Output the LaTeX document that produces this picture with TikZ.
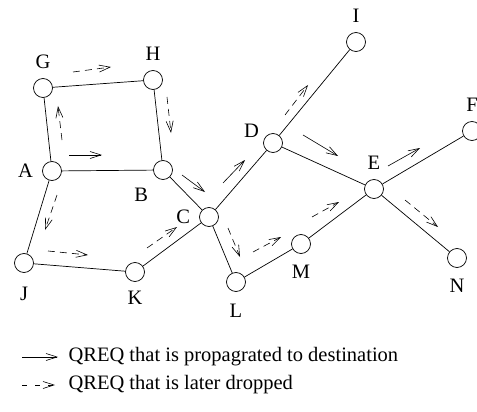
\documentclass[tikz,border=0pt]{standalone}
\usepackage{fontspec}
\setmainfont{Liberation Serif}
\usetikzlibrary{positioning,arrows.meta}

\begin{document}
\begin{tikzpicture}[
    x=1pt, y=-1pt,
    font=\fontsize{20.5}{24}\selectfont,
    label distance=9pt,
    every label/.style={inner sep=0pt},
    station/.style={circle, draw=black, fill=white, line width=0.7pt, minimum size=19pt, inner sep=0pt},
    link/.style={line width=0.7pt},
    fwd/.style={-{Straight Barb[length=11pt,width=7pt]}, line width=0.6pt},
    drop/.style={fwd, dash pattern=on 7pt off 5pt}
    ]
    \useasboundingbox (0,0) rectangle (477,412);

        %Nodes
        \node[station, label=above:G]    (G) at (43,88)   {};
        \node[station, label=above:H]    (H) at (153,80)  {};
        \node[station, label=left:A]     (A) at (52,171)  {};
        \node[station, label={[label distance=13pt]230:B}] (B) at (163,170) {};
        \node[station, label={[label distance=5pt]158:D}] (D) at (273,143) {};
        \node[station, label=left:C]     (C) at (209,217) {};
        \node[station, label=above:I]    (I) at (356,42)  {};
        \node[station, label=above:E]    (E) at (374,189) {};
        \node[station, label=above:F]    (F) at (472,131) {};
        \node[station, label={[label distance=14pt]below:J}] (J) at (24,263)  {};
        \node[station, label={[label distance=9pt]below:K}]  (K) at (135,272) {};
        \node[station, label={[label distance=12pt]below:L}] (L) at (236,282) {};
        \node[station, label={[label distance=11pt]below:M}] (M) at (301,244) {};
        \node[station, label={[label distance=11pt]below:N}] (N) at (457,258) {};

        %Lines
        \draw[link] (G) -- (H);
        \draw[link] (G) -- (A);
        \draw[link] (H) -- (B);
        \draw[link] (A) -- (B);
        \draw[link] (A) -- (J);
        \draw[link] (J) -- (K);
        \draw[link] (K) -- (C);
        \draw[link] (B) -- (C);
        \draw[link] (C) -- (D);
        \draw[link] (C) -- (L);
        \draw[link] (D) -- (I);
        \draw[link] (D) -- (E);
        \draw[link] (L) -- (M);
        \draw[link] (M) -- (E);
        \draw[link] (E) -- (F);
        \draw[link] (E) -- (N);

        %QREQ arrows
        \foreach \nm/\xa/\ya/\xb/\yb/\sty in {
            AB/69/155/102/155/fwd, AG/62/140/58/106/drop, GH/73/72/111/67/drop,
            HB/167/97/171/133/drop, BC/182/175/205/192/fwd, CD/223/183/245/160/fwd,
            DI/285/115/308/85/drop, DE/303/135/338/156/fwd, EF/388/166/420/148/fwd,
            EN/405/200/438/227/drop, ME/312/217/339/202/drop, LM/253/252/281/237/drop,
            CL/228/228/240/257/drop, JK/48/251/88/255/drop, KC/147/248/177/227/drop,
            AJ/57/195/45/230/drop} {
            \coordinate (\nm s) at (\xa,\ya);
            \coordinate (\nm t) at (\xb,\yb);
            \draw[\sty] (\nm s) -- (\nm t);
        }

        %Legend
        \node[anchor=west] (keyfwd)  at (65,357) {QREQ that is propagrated to destination};
        \node[anchor=west] (keydrop) at (65,385) {QREQ that is later dropped};
        \coordinate (fwdstart)  at (22,357);
        \coordinate (dropstart) at (22,385);
        \draw[fwd]  (fwdstart)  -- ([xshift=-7pt]keyfwd.west);
        \draw[fwd, dash pattern=on 5pt off 8pt] (dropstart) -- ([xshift=-10pt]keydrop.west);
\end{tikzpicture}
\end{document}
